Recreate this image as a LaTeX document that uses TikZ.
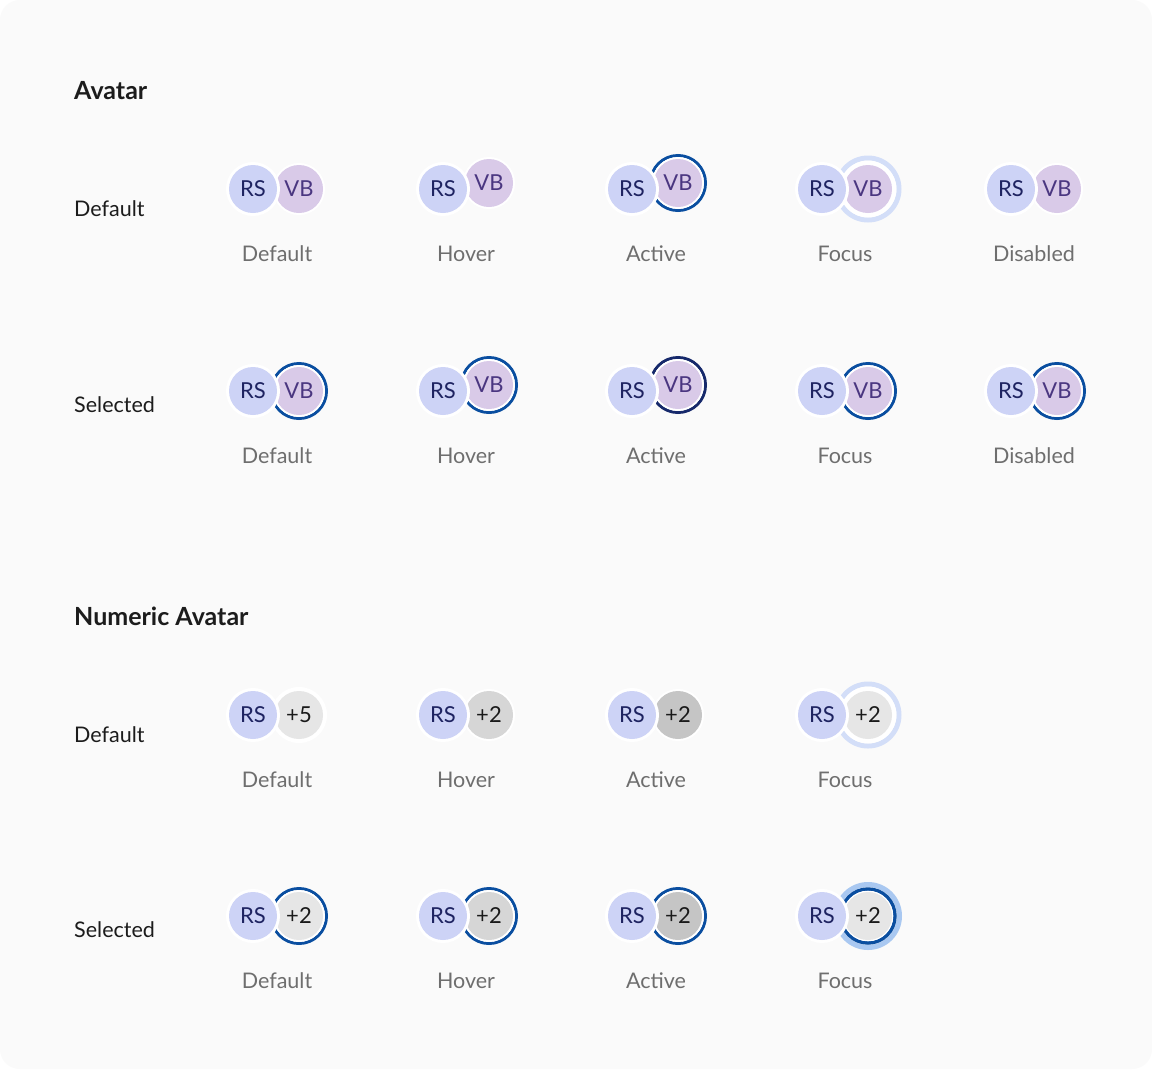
\documentclass[tikz,border=0pt]{standalone}
\usepackage{fontspec}
\setmainfont{Lato}
\definecolor{bgc}{HTML}{FAFAFA}
\definecolor{rsfill}{HTML}{CDD3F6}
\definecolor{rstext}{HTML}{1E2361}
\definecolor{vbfill}{HTML}{D9CAE8}
\definecolor{vbtext}{HTML}{4A3680}
\definecolor{grayD}{HTML}{E6E6E6}
\definecolor{grayH}{HTML}{D6D6D6}
\definecolor{grayA}{HTML}{C5C5C5}
\definecolor{numtext}{HTML}{1A1A1A}
\definecolor{ringblue}{HTML}{0A4EA0}
\definecolor{ringnavy}{HTML}{16296B}
\definecolor{focuslight}{HTML}{D3DEF8}
\definecolor{halo}{HTML}{A9C8F1}
\definecolor{captxt}{HTML}{6E6E6E}
\definecolor{labtxt}{HTML}{1C1C1C}
\tikzset{
  av/.style={circle, inner sep=0pt, minimum size=48pt, font=\fontsize{22}{26}\selectfont},
  rs/.style={av, fill=rsfill, text=rstext},
  vb/.style={av, fill=vbfill, text=vbtext},
  numD/.style={av, fill=grayD, text=numtext},
  numH/.style={av, fill=grayH, text=numtext},
  numA/.style={av, fill=grayA, text=numtext},
  captext/.style={inner sep=0pt, font=\fontsize{21.5}{26}\selectfont, text=captxt},
  rowlab/.style={anchor=west, inner sep=0pt, font=\fontsize{21.5}{26}\selectfont, text=labtxt},
  titletext/.style={anchor=west, inner sep=0pt, font=\fontsize{25}{30}\selectfont\bfseries, text=labtxt},
}
\newcommand{\gapc}[3]{\fill[white] (#1,#2) circle (#3pt);}
\newcommand{\ringc}[5]{\draw[#3, line width=#5pt] (#1,#2) circle (#4pt);}
\newcommand{\frontrs}[3]{\fill[white] (#2,#3) circle (27pt); \node[rs] (#1) at (#2,#3) {RS};}
\begin{document}
\begin{tikzpicture}[x=1pt,y=-1pt]
\fill[white] (0,0) rectangle (1152,1069);
\fill[bgc, rounded corners=20pt] (0,0) rectangle (1152,1069);
\useasboundingbox (0,0) rectangle (1152,1069);

% titles and row labels
\node[titletext] (t1) at (74,91) {Avatar};
\node[titletext] (t2) at (74,616) {Numeric Avatar};
\node[rowlab] (l1) at (74,209) {Default};
\node[rowlab] (l2) at (74,405) {Selected};
\node[rowlab] (l3) at (74,735) {Default};
\node[rowlab] (l4) at (74,930) {Selected};

% ---------- Row 1: Avatar default ----------
\gapc{299}{189}{26} \node[vb] (b11) at (299,189) {VB}; \frontrs{f11}{253}{189}
\gapc{489}{183}{26} \node[vb] (b12) at (489,183) {VB}; \frontrs{f12}{443}{189}
\ringc{678}{183}{ringblue}{27.5}{3} \gapc{678}{183}{26} \node[vb] (b13) at (678,183) {VB}; \frontrs{f13}{632}{189}
\ringc{868}{189}{focuslight}{31}{5} \gapc{868}{189}{28.5} \node[vb] (b14) at (868,189) {VB}; \frontrs{f14}{822}{189}
\gapc{1057}{189}{26} \node[vb] (b15) at (1057,189) {VB}; \frontrs{f15}{1011}{189}

\node[captext] (c11) at (277,254) {Default};
\node[captext] (c12) at (466,254) {Hover};
\node[captext] (c13) at (656,254) {Active};
\node[captext] (c14) at (845,254) {Focus};
\node[captext] (c15) at (1034,254) {Disabled};

% ---------- Row 2: Avatar selected ----------
\ringc{299}{391}{ringblue}{27.5}{3} \gapc{299}{391}{26} \node[vb] (b21) at (299,391) {VB}; \frontrs{f21}{253}{391}
\ringc{489}{385}{ringblue}{27.5}{3} \gapc{489}{385}{26} \node[vb] (b22) at (489,385) {VB}; \frontrs{f22}{443}{391}
\ringc{678}{385}{ringnavy}{27.5}{3} \gapc{678}{385}{26} \node[vb] (b23) at (678,385) {VB}; \frontrs{f23}{632}{391}
\ringc{868}{391}{ringblue}{27.5}{3} \gapc{868}{391}{26} \node[vb] (b24) at (868,391) {VB}; \frontrs{f24}{822}{391}
\ringc{1057}{391}{ringblue}{27.5}{3} \gapc{1057}{391}{26} \node[vb] (b25) at (1057,391) {VB}; \frontrs{f25}{1011}{391}

\node[captext] (c21) at (277,456) {Default};
\node[captext] (c22) at (466,456) {Hover};
\node[captext] (c23) at (656,456) {Active};
\node[captext] (c24) at (845,456) {Focus};
\node[captext] (c25) at (1034,456) {Disabled};

% ---------- Row 3: Numeric default ----------
\gapc{299}{715}{28} \node[numD] (b31) at (299,715) {+5}; \frontrs{f31}{253}{715}
\gapc{489}{715}{26} \node[numH] (b32) at (489,715) {+2}; \frontrs{f32}{443}{715}
\gapc{678}{715}{26} \node[numA] (b33) at (678,715) {+2}; \frontrs{f33}{632}{715}
\ringc{868}{715}{focuslight}{31}{5} \gapc{868}{715}{28.5} \node[numD] (b34) at (868,715) {+2}; \frontrs{f34}{822}{715}

\node[captext] (c31) at (277,780) {Default};
\node[captext] (c32) at (466,780) {Hover};
\node[captext] (c33) at (656,780) {Active};
\node[captext] (c34) at (845,780) {Focus};

% ---------- Row 4: Numeric selected ----------
\ringc{299}{916}{ringblue}{27.5}{3} \gapc{299}{916}{26} \node[numD] (b41) at (299,916) {+2}; \frontrs{f41}{253}{916}
\ringc{489}{916}{ringblue}{27.5}{3} \gapc{489}{916}{26} \node[numH] (b42) at (489,916) {+2}; \frontrs{f42}{443}{916}
\ringc{678}{916}{ringblue}{27.5}{3} \gapc{678}{916}{26} \node[numA] (b43) at (678,916) {+2}; \frontrs{f43}{632}{916}
\ringc{868}{916}{halo}{31.5}{5} \ringc{868}{916}{ringblue}{27}{3.5} \gapc{868}{916}{25.3} \node[numD] (b44) at (868,916) {+2}; \frontrs{f44}{822}{916}

\node[captext] (c41) at (277,981) {Default};
\node[captext] (c42) at (466,981) {Hover};
\node[captext] (c43) at (656,981) {Active};
\node[captext] (c44) at (845,981) {Focus};
\end{tikzpicture}
\end{document}
